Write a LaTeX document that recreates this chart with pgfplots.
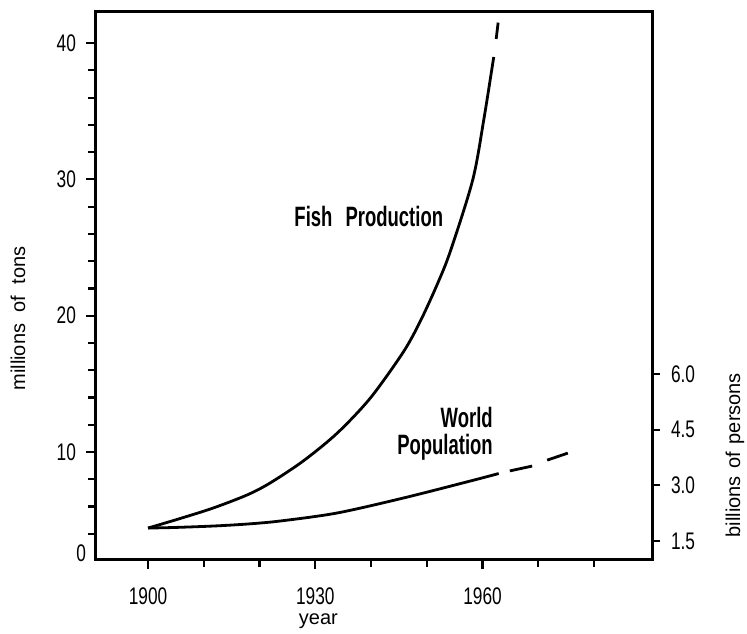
\documentclass[border=0pt]{standalone}
\usepackage{fontspec}
\setmainfont{Liberation Sans}
\newfontfamily\condfont{Liberation Sans}[FakeStretch=0.72]
\newfontfamily\boldcond{Liberation Sans}[FakeStretch=0.66]
\usepackage{pgfplots}
\pgfplotsset{compat=1.18}

\pgfplotstableread{
x y
1900.00 4.42
1905.75 5.12
1911.68 5.89
1917.78 6.85
1921.91 7.73
1927.84 9.34
1933.95 11.39
1939.88 13.96
1945.80 17.34
1948.86 19.61
1951.91 22.33
1954.25 24.75
1958.24 29.96
1960.22 34.36
1962.01 38.98
}\fish

\pgfplotstableread{
x y
1962.45 40.3
1962.8 41.5
}\fishdash

\pgfplotstableread{
x y
1900.0 1.850
1904.5 1.864
1911.7 1.904
1917.8 1.958
1923.7 2.039
1933.9 2.255
1945.8 2.659
1957.8 3.117
1962.9 3.319
}\pop

\pgfplotstableread{
x y
1964.9 3.39
1968.9 3.52
}\popdashA

\pgfplotstableread{
x y
1971.6 3.68
1975.3 3.87
}\popdashB

\begin{document}
\begin{tikzpicture}
\path[use as bounding box] (-48pt,-37pt) rectangle (325.5pt,279.5pt);
\begin{axis}[
  at={(0pt,0pt)}, anchor=south west,
  width=278pt, height=273.5pt, scale only axis,
  xmin=1890.67, xmax=1990.4, ymin=2.15, ymax=42.28,
  axis line style={line width=1.5pt},
  xtick={1900,1930,1960}, minor xtick={1910,1920,1940,1950,1970,1980},
  ytick={10,20,30,40}, minor ytick={4,6,8,12,14,16,18,22,24,26,28,32,34,36,38},
  extra y ticks={2.6}, extra y tick labels={0},
  extra y tick style={major tick length=0pt},
  tick align=outside, xtick pos=left, ytick pos=left,
  major tick length=5pt, minor tick length=4pt,
  every tick/.append style={black, line width=1.1pt},
  tick label style={font=\condfont\fontsize{12}{14}\selectfont},
  /pgf/number format/assume math mode=true,
  /pgf/number format/set thousands separator={},
  xticklabel style={yshift=-6pt},
  yticklabel style={xshift=-1.5pt},
  label style={font=\condfont\fontsize{12}{14}\selectfont},
  every axis y label/.style={at={(rel axis cs:0,0.44)}, xshift=-39pt, rotate=90, anchor=center},
  every axis x label/.style={at={(rel axis cs:0.4,0)}, yshift=-31pt, anchor=center},
  xlabel={year}, ylabel={millions\hspace{3pt} of\hspace{3pt} tons},
]
\addplot[black, line width=1.4pt, smooth] table[x=x,y=y] {\fish};
\addplot[black, line width=1.4pt] table[x=x,y=y] {\fishdash};
\node[font=\boldcond\bfseries\fontsize{14}{15}\selectfont] at (axis cs:1939.6,27.3) {Fish\hspace{4pt} Production};
\node[font=\boldcond\bfseries\fontsize{14}{13.5}\selectfont, align=right, anchor=east] at (axis cs:1963.1,11.35) {World\\Population};
\end{axis}
\begin{axis}[
  at={(0pt,0pt)}, anchor=south west,
  width=278pt, height=273.5pt, scale only axis,
  xmin=1890.67, xmax=1990.4, ymin=1.015, ymax=15.76,
  axis x line=none, axis y line*=right,
  axis line style={line width=1.5pt},
  ytick={1.5,3,4.5,6}, yticklabels={1.5,3.0,4.5,6.0},
  tick align=outside, major tick length=4pt,
  every tick/.append style={black, line width=1.1pt},
  tick label style={font=\condfont\fontsize{12}{14}\selectfont},
  yticklabel style={xshift=2pt},
  label style={font=\condfont\fontsize{12}{14}\selectfont},
  every axis y label/.style={at={(rel axis cs:1,0.19)}, xshift=41.5pt, rotate=90, anchor=center},
  ylabel={billions\hspace{1pt} of\hspace{1pt} persons},
]
\addplot[black, line width=1.4pt, smooth] table[x=x,y=y] {\pop};
\addplot[black, line width=1.4pt] table[x=x,y=y] {\popdashA};
\addplot[black, line width=1.4pt] table[x=x,y=y] {\popdashB};
\end{axis}
\end{tikzpicture}
\end{document}
